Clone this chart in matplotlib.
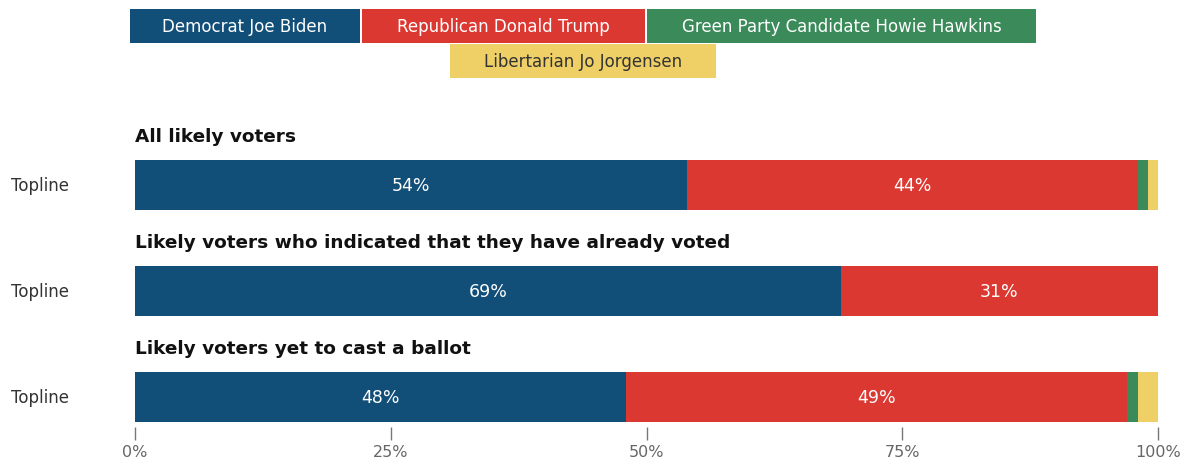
import numpy as np
import matplotlib.pyplot as plt
from matplotlib.patches import Rectangle
from matplotlib.transforms import blended_transform_factory

plt.rcParams['font.family'] = ['DejaVu Sans']

candidates = ['Democrat Joe Biden', 'Republican Donald Trump',
              'Green Party Candidate Howie Hawkins', 'Libertarian Jo Jorgensen']
colors = ['#114e78', '#dc3832', '#3b8a5a', '#efd066']
text_colors = ['white', 'white', 'white', '#333333']

groups = ['All likely voters',
          'Likely voters who indicated that they have already voted',
          'Likely voters yet to cast a ballot']
row_label = 'Topline'

biden = [54, 69, 48]
trump = [44, 31, 49]
hawkins = [1, 0, 1]
jorgensen = [1, 0, 2]
series = [biden, trump, hawkins, jorgensen]

W, H = 1194, 460
fig = plt.figure(figsize=(W / 100, H / 100), dpi=100)
ax = fig.add_axes([135 / W, 1 - 428 / H, (1158 - 135) / W, (428 - 110) / H])

y = np.arange(len(groups))
left = np.zeros(len(groups))
for k, vals in enumerate(series):
    vals = np.array(vals, dtype=float)
    ax.barh(y, vals, left=left, height=0.472, color=colors[k], linewidth=0)
    if k < 2:
        for i, v in enumerate(vals):
            if v > 0:
                ax.text(left[i] + v / 2, y[i], f'{v:.0f}%', color='white',
                        ha='center', va='center', fontsize=12.5)
    left += vals

ax.set_xlim(0, 100)
ax.set_ylim(2.282, -0.718)
for s in ax.spines.values():
    s.set_visible(False)
ax.set_yticks([])
ax.set_xticks([0, 25, 50, 75, 100])
ax.set_xticklabels(['0%', '25%', '50%', '75%', '100%'], fontsize=11.5, color='#666666')
ax.tick_params(axis='x', length=9, width=1, color='#777777', pad=3)

trans = blended_transform_factory(fig.transFigure, ax.transData)
for i, g in enumerate(groups):
    ax.text(0, y[i] - 0.46, g, fontsize=13.3, fontweight='bold', color='#111111',
            ha='left', va='center')
    ax.text(11 / W, y[i], row_label, transform=trans, fontsize=12,
            color='#333333', ha='left', va='center')

# legend boxes
boxes = [(130, 10, 230, 34), (362, 10, 283, 34), (647, 10, 389, 34), (450, 45, 266, 34)]
for k, (bx, by, bw, bh) in enumerate(boxes):
    fig.patches.append(Rectangle((bx / W, 1 - (by + bh) / H), bw / W, bh / H,
                                 transform=fig.transFigure, color=colors[k], linewidth=0))
    fig.text((bx + bw / 2) / W, 1 - (by + bh / 2) / H, candidates[k],
             color=text_colors[k], ha='center', va='center', fontsize=12)

fig.savefig('out.png', dpi=100)
